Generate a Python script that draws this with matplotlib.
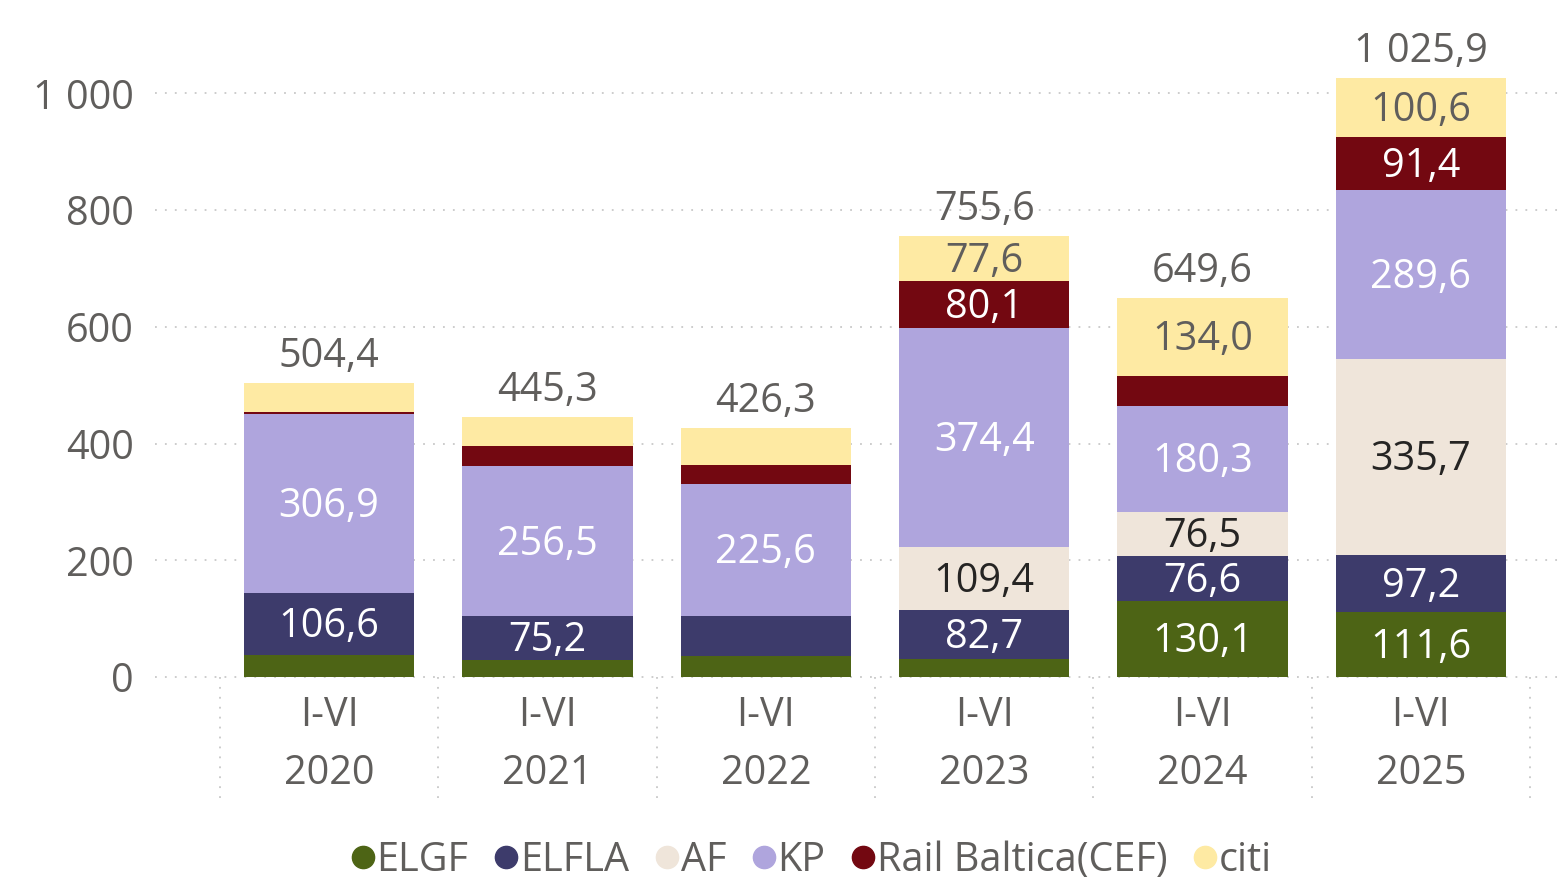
import matplotlib
matplotlib.use("Agg")
import matplotlib.pyplot as plt
from matplotlib.lines import Line2D
import matplotlib.transforms as mtransforms
import numpy as np

plt.rcParams['font.family'] = ['Open Sans', 'DejaVu Sans']

categories = ["I-VI\n2020", "I-VI\n2021", "I-VI\n2022", "I-VI\n2023", "I-VI\n2024", "I-VI\n2025"]
series_names = ["ELGF", "ELFLA", "AF", "KP", "Rail Baltica(CEF)", "citi"]
elgf = [37.5, 29.0, 36.0, 31.4, 130.1, 111.6]
elfla = [106.6, 75.2, 68.6, 82.7, 76.6, 97.2]
af = [0.0, 0.0, 0.0, 109.4, 76.5, 335.7]
kp = [306.9, 256.5, 225.6, 374.4, 180.3, 289.6]
rail = [3.0, 35.5, 33.4, 80.1, 52.1, 91.4]
citi = [50.4, 49.1, 62.7, 77.6, 134.0, 100.6]
totals = [504.4, 445.3, 426.3, 755.6, 649.6, 1025.9]
yticks = [0, 200, 400, 600, 800, 1000]
ytick_labels = ["0", "200", "400", "600", "800", "1 000"]

colors = ["#4d6415", "#3d3b6b", "#efe5da", "#afa5dd", "#730811", "#feeaa3"]
label_colors = ["white", "white", "#252423", "white", "white", "#605e5c"]
gray = "#605e5c"

W, H = 1559, 890
fig = plt.figure(figsize=(W / 100, H / 100), dpi=100)
ax_left, ax_right = 220, 1530
ax_bottom, ax_top = 677, 35
ax = fig.add_axes([ax_left / W, 1 - ax_bottom / H, (ax_right - ax_left) / W, (ax_bottom - ax_top) / H])

x = np.arange(len(categories))
data = [elgf, elfla, af, kp, rail, citi]
bottom = np.zeros(len(categories))
fs = 28.5
label_trans = mtransforms.offset_copy(ax.transData, fig=fig, x=0, y=-3, units="dots")
for name, vals, c, lc in zip(series_names, data, colors, label_colors):
    vals = np.array(vals)
    ax.bar(x, vals, bottom=bottom, width=0.78, color=c, zorder=3, label=name)
    for xi, v, b in zip(x, vals, bottom):
        if v >= 70:
            txt = f"{v:.1f}".replace(".", ",")
            ax.text(xi, b + v / 2, txt, ha="center", va="center", color=lc, fontsize=fs,
                    zorder=4, transform=label_trans)
    bottom = bottom + vals

for xi, t in zip(x, totals):
    s = f"{t:,.1f}".replace(",", " ").replace(".", ",")
    ax.text(xi, bottom[xi] + 10, s, ha="center", va="bottom", color=gray, fontsize=fs, zorder=4)

ax.set_xlim(-0.5, len(categories) - 0.5)
ax.set_ylim(0, 1100)
for sp in ax.spines.values():
    sp.set_visible(False)

ax.set_yticks(yticks)
ax.set_yticklabels(ytick_labels)
ax.tick_params(axis="y", length=0, pad=(ax_left - 134) * 0.72, labelsize=fs, labelcolor=gray)
ax.set_xticks(x)
ax.set_xticklabels(categories, linespacing=1.58)
ax.tick_params(axis="x", length=0, pad=13, labelsize=fs, labelcolor=gray)

# horizontal dotted gridlines extending beyond axes
x0f = (155 - ax_left) / (ax_right - ax_left)
x1f = (1559 - ax_left) / (ax_right - ax_left)
for yt in yticks:
    ax.plot([x0f, x1f], [yt, yt], transform=ax.get_yaxis_transform(), color="#c8c8c8",
            lw=1.3, linestyle=(0, (1, 4.5)), clip_on=False, zorder=1)

# vertical dotted separators below the axis
trans = mtransforms.blended_transform_factory(ax.transData, ax.transAxes)
y_low = -(805 - ax_bottom) / (ax_bottom - ax_top)
for b in np.arange(-0.5, len(categories), 1.0):
    ax.plot([b, b], [0, y_low], transform=trans, color="#c8c8c8", lw=1.3,
            linestyle=(0, (1, 4.5)), clip_on=False, zorder=1)

handles = [Line2D([0], [0], marker="o", linestyle="", markersize=16, markerfacecolor=c,
                  markeredgecolor=c) for c in colors]
leg = fig.legend(handles, series_names, loc="center", bbox_to_anchor=(0.518, 1 - 861 / H),
                 ncol=6, frameon=False, fontsize=fs, handletextpad=-0.15, columnspacing=0.45,
                 handlelength=1.0, labelcolor=gray)

fig.savefig("out.png", dpi=100)
